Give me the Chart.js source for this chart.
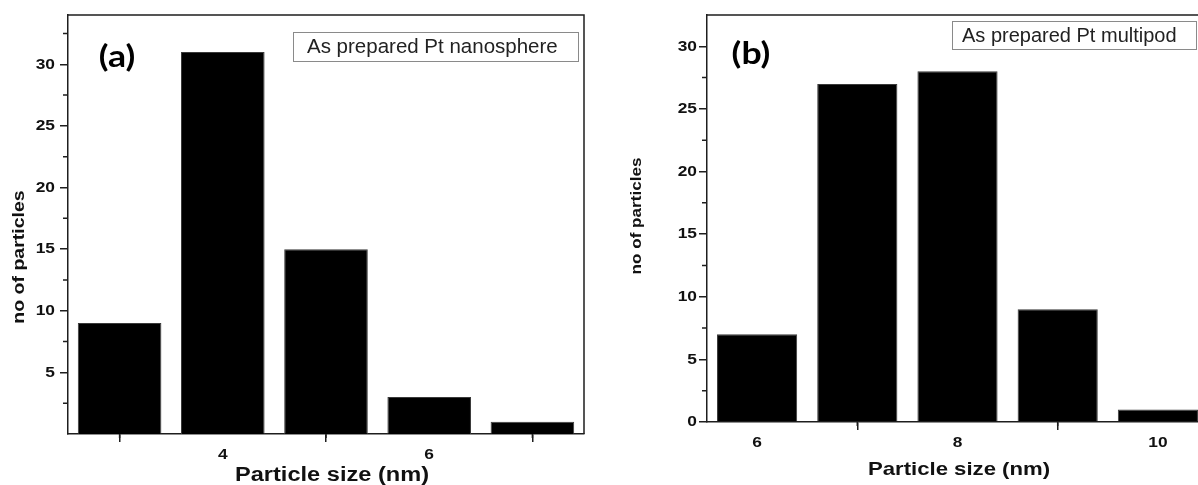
<!DOCTYPE html>
<html><head><meta charset="utf-8">
<script src="https://cdn.jsdelivr.net/npm/chart.js@4/dist/chart.umd.min.js"></script>
<style>
html,body{margin:0;padding:0;background:#fff;overflow:hidden;width:1198px;height:485px;}
#wrap{position:relative;width:1198px;height:485px;overflow:hidden;background:#fff;}
canvas{position:absolute;top:0;}
#c1{left:0;}
#c2{left:600px;}
</style></head><body>
<div id="wrap">
<canvas id="c1" width="600" height="485"></canvas>
<canvas id="c2" width="620" height="485"></canvas>
</div>
<script>
// ---- data ----
const sizesA = [3, 4, 5, 6, 7];
const countsA = [9, 31, 15, 3, 1];
const xTicksA = [4, 6];
const xMinorA = [3, 5, 7];
const yTicksA = [5, 10, 15, 20, 25, 30];
const yMinorA = [2.5, 7.5, 12.5, 17.5, 22.5, 27.5, 32.5];

const sizesB = [6, 7, 8, 9, 10];
const countsB = [7, 27, 28, 9, 1];
const xTicksB = [6, 8, 10];
const xMinorB = [7, 9];
const yTicksB = [0, 5, 10, 15, 20, 25, 30];
const yMinorB = [2.5, 7.5, 12.5, 17.5, 22.5, 27.5];

const xTitleText = 'Particle size (nm)';
const yTitleText = 'no of particles';
const tagA = '(a)';
const tagB = '(b)';
const legendA = 'As prepared Pt nanosphere';
const legendB = 'As prepared Pt multipod';

// ---- helpers ----
const AX = '#1e1e1e';
const SANS = '"Liberation Sans", Arial, sans-serif';
function textS(ctx, t, x, y, font, align, sx, rot, color) {
  ctx.save();
  ctx.translate(x, y);
  if (rot) ctx.rotate(-Math.PI / 2);
  ctx.scale(sx, 1);
  ctx.font = font;
  ctx.textAlign = align;
  ctx.textBaseline = 'middle';
  ctx.fillStyle = color || '#111';
  ctx.fillText(t, 0, 0);
  ctx.restore();
}

function makeOverlay(c) {
  return {
    id: 'overlay',
    afterDraw(chart) {
      const ctx = chart.ctx, ca = chart.chartArea;
      const xs = chart.scales.x, ys = chart.scales.y;
      ctx.save();
      ctx.strokeStyle = AX;
      ctx.lineWidth = 1.5;
      ctx.beginPath();
      ctx.moveTo(ca.left, ca.top);
      ctx.lineTo(ca.right, ca.top);
      ctx.lineTo(ca.right, ca.bottom);
      ctx.stroke();
      ctx.beginPath();
      c.xMinor.forEach(v => { const p = xs.getPixelForValue(v); ctx.moveTo(p, ca.bottom); ctx.lineTo(p, ca.bottom + 4); });
      c.yMinor.forEach(v => { const p = ys.getPixelForValue(v); ctx.moveTo(ca.left - 5, p); ctx.lineTo(ca.left, p); });
      ctx.stroke();
      ctx.restore();
      const tf = 'bold ' + c.tick[0] + 'px ' + SANS;
      xs.ticks.forEach(t => textS(ctx, String(t.value), xs.getPixelForValue(t.value), c.xLabelY, tf, 'center', c.tick[1], false));
      ys.ticks.forEach(t => textS(ctx, String(t.value), c.yLabelRight, ys.getPixelForValue(t.value), tf, 'right', c.tick[1], false));
      textS(ctx, xTitleText, c.xTitle[0], c.xTitle[1], 'bold ' + c.xTitle[2] + 'px ' + SANS, 'center', c.xTitle[3], false);
      textS(ctx, yTitleText, c.yTitle[0], c.yTitle[1], 'bold ' + c.yTitle[2] + 'px ' + SANS, 'center', c.yTitle[3], true);
      textS(ctx, c.tag, c.tagPos[0], c.tagPos[1], 'bold 31px Lato, "Open Sans", sans-serif', 'center', 1.15, false, '#000');
      // legend box
      ctx.save();
      ctx.fillStyle = '#fff';
      ctx.fillRect(c.leg[0], c.leg[1], c.leg[2], c.leg[3]);
      ctx.strokeStyle = '#8a8a8a';
      ctx.lineWidth = 1;
      ctx.strokeRect(c.leg[0] + 0.5, c.leg[1] + 0.5, c.leg[2], c.leg[3]);
      ctx.restore();
      textS(ctx, c.legText, c.leg[4], c.leg[1] + c.leg[3] / 2 + 1, c.leg[5] + 'px ' + SANS, 'left', 1, false, '#222');
    }
  };
}

function makeChart(id, sizes, counts, xTicks, yTicks, c) {
  const ctx = document.getElementById(id).getContext('2d');
  return new Chart(ctx, {
    type: 'bar',
    data: {
      datasets: [{
        data: sizes.map((s, i) => ({ x: s, y: counts[i] })),
        backgroundColor: '#000',
        borderColor: '#3a3a3a',
        borderWidth: 1,
        barPercentage: c.barPct,
        categoryPercentage: 1
      }]
    },
    options: {
      responsive: false,
      animation: false,
      events: [],
      layout: { padding: { left: 0, top: c.top, right: c.padRight, bottom: 0 } },
      plugins: { legend: { display: false }, tooltip: { enabled: false }, title: { display: false } },
      scales: {
        x: {
          type: 'linear', offset: false, min: c.xMin, max: c.xMax,
          afterBuildTicks: s => { s.ticks = xTicks.map(v => ({ value: v })); },
          afterFit: s => { s.height = c.xH; },
          ticks: { display: false },
          grid: { display: true, drawOnChartArea: false, drawTicks: true, tickLength: 8, color: AX, lineWidth: 1.5 },
          border: { display: true, color: AX, width: 1.5 }
        },
        y: {
          min: 0, max: c.yMax,
          afterBuildTicks: s => { s.ticks = yTicks.map(v => ({ value: v })); },
          afterFit: s => { s.width = c.yW; },
          ticks: { display: false },
          grid: { display: true, drawOnChartArea: false, drawTicks: true, tickLength: 8, color: AX, lineWidth: 1.5 },
          border: { display: true, color: AX, width: 1.5 }
        }
      }
    },
    plugins: [makeOverlay(c)]
  });
}

makeChart('c1', sizesA, countsA, xTicksA, yTicksA, {
  xMin: 2.5, xMax: 7.5, yMax: 34, barPct: 0.81,
  top: 15, padRight: 16, xH: 51, yW: 68,
  xMinor: xMinorA, yMinor: yMinorA, tick: [15.5, 1.12],
  xLabelY: 455, yLabelRight: 55,
  xTitle: [332, 475, 20, 1.18], yTitle: [20, 257, 16, 1.22],
  tag: tagA, tagPos: [117, 57],
  leg: [293, 32, 285, 29, 307, 20.5], legText: legendA
});

makeChart('c2', sizesB, countsB, xTicksB, yTicksB, {
  xMin: 5.5, xMax: 10.5, yMax: 32.5, barPct: 0.8,
  top: 15, padRight: 12, xH: 63, yW: 107,
  xMinor: xMinorB, yMinor: yMinorB, tick: [15.5, 1.12],
  xLabelY: 443, yLabelRight: 97,
  xTitle: [959 - 600, 470, 19, 1.165], yTitle: [37, 216, 15, 1.14],
  tag: tagB, tagPos: [151, 54],
  leg: [352, 21, 244, 28, 362, 20], legText: legendB
});
</script>
</body></html>
